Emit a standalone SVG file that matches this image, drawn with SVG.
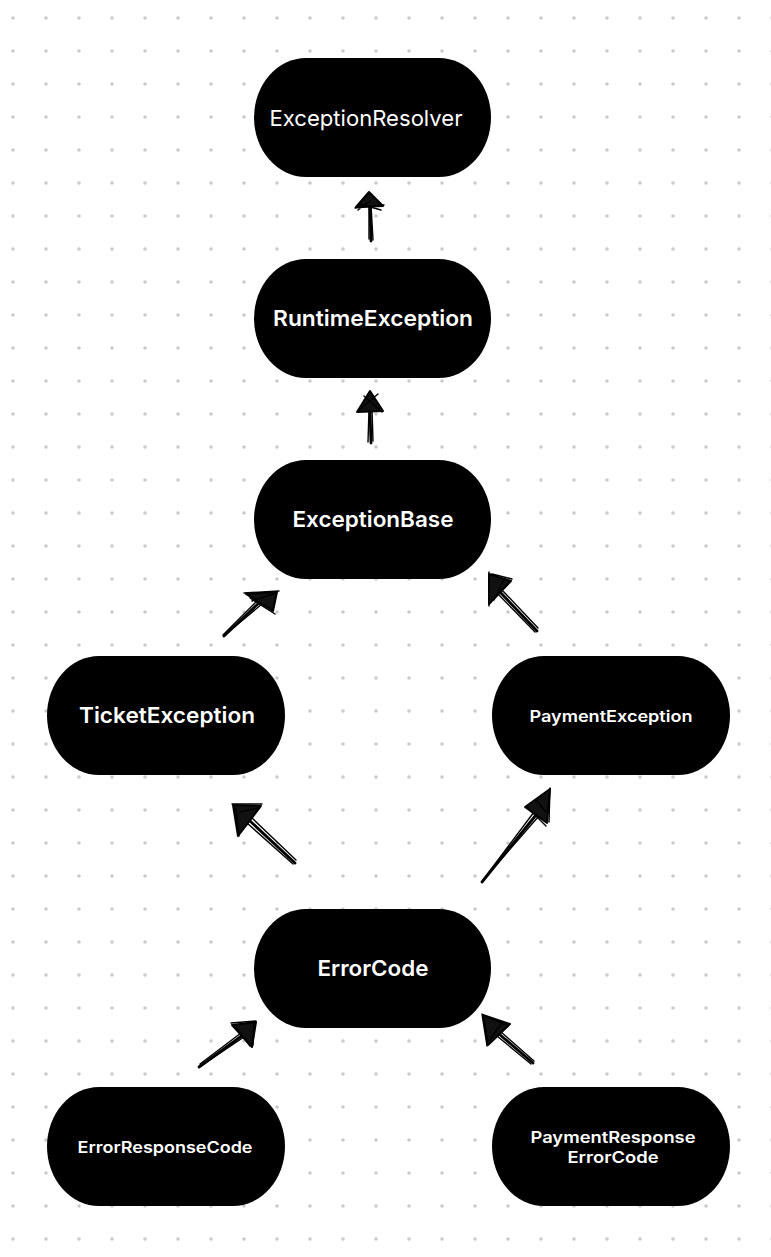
<svg xmlns="http://www.w3.org/2000/svg" width="771" height="1257" viewBox="0 0 771 1257">
<defs>
<pattern id="dots" x="0" y="0" width="33" height="33" patternUnits="userSpaceOnUse">
<circle cx="13" cy="18" r="1.8" fill="#cacaca"/>
</pattern>
<style>
.node{fill:#000}
.t{fill:#fff;font-family:Inter,"Liberation Sans",sans-serif;text-anchor:middle}
.big{font-size:22px;font-weight:600}
.reg{font-size:22px;font-weight:400}
.sm{font-size:16px;font-weight:600}
.shaft{fill:none;stroke:#000;stroke-linecap:round;stroke-linejoin:round}
.s1{stroke-width:2.8}
.s2{stroke-width:1.4}
.head{fill:#111;stroke:#000;stroke-width:2;stroke-linejoin:round}
.hs{fill:none;stroke:#000;stroke-width:1.4;stroke-linecap:round}
</style>
</defs>
<rect width="771" height="1257" fill="#fff"/>
<rect width="771" height="1257" fill="url(#dots)"/>

<g id="connectors">
<g id="e1">
<path class="shaft s1" d="M371 241 L370 206"/>
<path class="shaft s2" d="M373 240 L371 205 M369 239 L369 206"/>
<path class="head" d="M369 192 L356 207 L383 206 Z"/>
<path class="hs" d="M355 208 L384 205 M360 204 L381 210 M358 210 L370 201"/>
</g>
<g id="e2">
<path class="shaft s1" d="M371 443 L370 410"/>
<path class="shaft s2" d="M373 441 L372 409 M368 442 L369 410"/>
<path class="head" d="M370 391 L357 412 L383 411 Z"/>
<path class="hs" d="M359 410 L378 394 M364 396 L382 412"/>
</g>
<g id="e3">
<path class="shaft s1" d="M224 636 L260 602"/>
<path class="shaft s2" d="M226 634 L262 604 M223 635 L258 600"/>
<path class="head" d="M277 592 L246 594 L273 611 Z"/>
<path class="hs" d="M244 593 L279 591 M250 598 L275 614 M252 601 L276 593"/>
</g>
<g id="e4">
<path class="shaft s1" d="M537 631 L500 592"/>
<path class="shaft s2" d="M535 632 L498 594 M538 628 L502 590"/>
<path class="head" d="M489 574 L511 581 L489 604 Z"/>
<path class="hs" d="M489 572 L489 606 M492 574 L512 579 M494 600 L505 578"/>
</g>
<g id="e5">
<path class="shaft s1" d="M295 863 L250 821"/>
<path class="shaft s2" d="M293 864 L247 823 M296 860 L252 818"/>
<path class="head" d="M233 805 L261 806 L238 836 Z"/>
<path class="hs" d="M232 804 L262 804 M236 808 L239 836 M240 812 L258 808"/>
</g>
<g id="e6">
<path class="shaft s1" d="M482 882 L536 815"/>
<path class="shaft s2" d="M485 878 L538 817 M483 880 L534 812"/>
<path class="head" d="M550 789 L525 807 L547 823 Z"/>
<path class="hs" d="M550 788 L549 822 M527 807 L546 826 M536 800 L546 812"/>
</g>
<g id="e7">
<path class="shaft s1" d="M199 1067 L243 1035"/>
<path class="shaft s2" d="M201 1066 L244 1037 M200 1064 L241 1033"/>
<path class="head" d="M256 1022 L232 1025 L252 1047 Z"/>
<path class="hs" d="M231 1023 L256 1021 M236 1028 L250 1046 M254 1024 L253 1045"/>
</g>
<g id="e8">
<path class="shaft s1" d="M533 1063 L499 1034"/>
<path class="shaft s2" d="M531 1064 L497 1036 M534 1061 L501 1032"/>
<path class="head" d="M483 1015 L510 1024 L488 1045 Z"/>
<path class="hs" d="M482 1014 L487 1046 M485 1016 L508 1026 M490 1040 L502 1022"/>
</g>
</g>

<g id="n-exceptionresolver">
<rect class="node" x="254" y="58" width="237" height="119" rx="52" ry="59.5"/>
<text class="t reg" x="366" y="126" textLength="193" lengthAdjust="spacingAndGlyphs">ExceptionResolver</text>
</g>
<g id="n-runtimeexception">
<rect class="node" x="254" y="259" width="237" height="119" rx="52" ry="59.5"/>
<text class="t big" x="373" y="326" textLength="200" lengthAdjust="spacingAndGlyphs">RuntimeException</text>
</g>
<g id="n-exceptionbase">
<rect class="node" x="254" y="460" width="237" height="119" rx="52" ry="59.5"/>
<text class="t big" x="373" y="527" textLength="161" lengthAdjust="spacingAndGlyphs">ExceptionBase</text>
</g>
<g id="n-ticketexception">
<rect class="node" x="47" y="656" width="238" height="119" rx="52" ry="59.5"/>
<text class="t big" x="167" y="723" textLength="176" lengthAdjust="spacingAndGlyphs">TicketException</text>
</g>
<g id="n-paymentexception">
<rect class="node" x="492" y="656" width="238" height="119" rx="52" ry="59.5"/>
<text class="t sm" x="611" y="722" textLength="163" lengthAdjust="spacingAndGlyphs">PaymentException</text>
</g>
<g id="n-errorcode">
<rect class="node" x="254" y="909" width="237" height="119" rx="52" ry="59.5"/>
<text class="t big" x="373" y="976" textLength="111" lengthAdjust="spacingAndGlyphs">ErrorCode</text>
</g>
<g id="n-errorresponsecode">
<rect class="node" x="47" y="1087" width="238" height="119" rx="52" ry="59.5"/>
<text class="t sm" x="165" y="1153" textLength="175" lengthAdjust="spacingAndGlyphs">ErrorResponseCode</text>
</g>
<g id="n-paymentresponseerrorcode">
<rect class="node" x="492" y="1087" width="238" height="119" rx="52" ry="59.5"/>
<text class="t sm" x="613" y="1143" textLength="165" lengthAdjust="spacingAndGlyphs">PaymentResponse</text>
<text class="t sm" x="613" y="1163" textLength="91" lengthAdjust="spacingAndGlyphs">ErrorCode</text>
</g>
</svg>
